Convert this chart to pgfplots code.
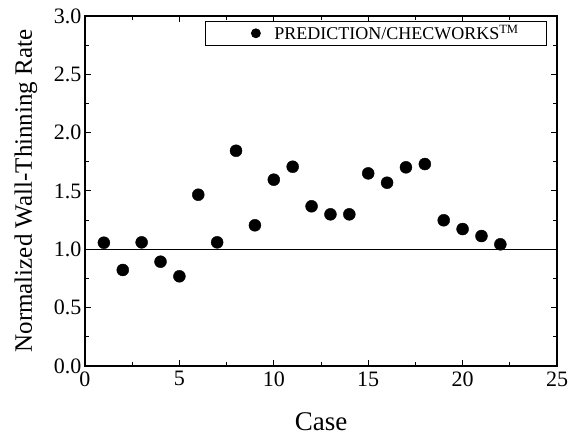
\documentclass[border=0pt]{standalone}
\usepackage{pgfplots}
\pgfplotsset{compat=1.18}
\usepackage{fontspec}
\setmainfont{Liberation Serif}
\begin{document}
\begin{tikzpicture}
\begin{axis}[
  scale only axis,
  width=472bp, height=350bp,
  xmin=0, xmax=25, ymin=0, ymax=3,
  xtick={0,5,...,25}, ytick={0,0.5,...,3},
  xticklabels={\textrm{0},\textrm{5},\textrm{10},\textrm{15},\textrm{20},\textrm{25}},
  yticklabels={\textrm{0.0},\textrm{0.5},\textrm{1.0},\textrm{1.5},\textrm{2.0},\textrm{2.5},\textrm{3.0}},
  minor xtick={2.5,7.5,...,22.5}, minor ytick={0.25,0.75,...,2.75},
  tick align=inside,
  major tick length=6bp, minor tick length=4bp,
  tick style={black, line width=1bp},
  axis line style={line width=1.6bp},
  tick label style={font=\fontsize{22bp}{26bp}\selectfont},
  xticklabel style={yshift=-2bp},
  yticklabel style={xshift=0bp},
  xlabel={Case},
  ylabel={Normalized Wall-Thinning Rate},
  xlabel style={at={(axis description cs:0.5,0)}, anchor=base, yshift=-64bp, inner sep=0pt, font=\fontsize{27bp}{30bp}\selectfont},
  ylabel style={at={(axis description cs:0,0.5)}, anchor=base, yshift=53bp, inner sep=0pt, font=\fontsize{25bp}{30bp}\selectfont},
  legend style={at={(0.979,0.986)}, anchor=north east, draw=black, line width=0.8bp,
    font=\fontsize{18bp}{21bp}\selectfont, inner xsep=6bp, inner ysep=2bp},
  legend image code/.code={\path (0bp,0bp) (60bp,0bp); \draw[mark repeat=2,mark phase=2,#1,mark size=4.5bp] plot coordinates {(0bp,0bp)(44bp,0bp)(60bp,0bp)};},
  clip=false,
]
\addplot[only marks, mark=*, mark size=6bp, black] coordinates {
(1,1.057) (2,0.823) (3,1.06) (4,0.894) (5,0.769) (6,1.468) (7,1.06) (8,1.845)
(9,1.206) (10,1.597) (11,1.708) (12,1.369) (13,1.30) (14,1.30) (15,1.651)
(16,1.571) (17,1.703) (18,1.731) (19,1.249) (20,1.174) (21,1.114) (22,1.043)
};
\addlegendentry{PREDICTION/CHECWORKS\textsuperscript{TM}\hspace*{20bp}}
\addplot[black, line width=1.6bp, forget plot] coordinates {(0,1) (25,1)};
\path (rel axis cs:0,0) ++(-85bp,-71bp);
\path (rel axis cs:1,1) ++(17bp,16bp);
\end{axis}
\end{tikzpicture}
\end{document}
